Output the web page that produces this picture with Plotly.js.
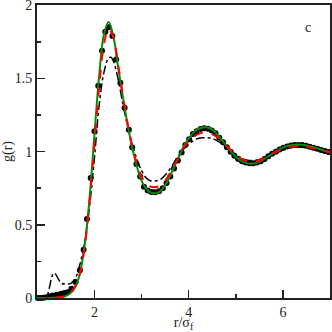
<!DOCTYPE html>
<html>
<head>
<meta charset="utf-8">
<script src="https://cdn.plot.ly/plotly-3.0.1.min.js"></script>
<style>
  html, body { margin: 0; padding: 0; background: #fff; }
  #plot { width: 332px; height: 332px; }
</style>
</head>
<body>
<div id="plot"></div>
<script>
// simulation points (black dots)
var dotR = [0.80, 0.86, 0.92, 0.98, 1.04, 1.11, 1.20, 1.29, 1.36, 1.43, 1.51, 1.60, 1.69, 1.77, 1.84, 1.92,
    2.00, 2.08, 2.16, 2.23, 2.30, 2.38, 2.46, 2.55, 2.64, 2.73, 2.80, 2.89, 2.97,
    3.05, 3.13, 3.21, 3.29, 3.37, 3.45, 3.53, 3.61, 3.69, 3.77, 3.85, 3.93,
    4.01, 4.09, 4.17, 4.25, 4.33, 4.41, 4.49, 4.57, 4.65, 4.73, 4.81, 4.89, 4.97,
    5.05, 5.13, 5.21, 5.29, 5.37, 5.45, 5.53, 5.61, 5.69, 5.77, 5.85, 5.93,
    6.01, 6.09, 6.17, 6.25, 6.33, 6.41, 6.49, 6.57, 6.65, 6.73, 6.81, 6.89, 6.97];
var dotG = [0.0, 0.0, 0.002, 0.005, 0.01, 0.017, 0.022, 0.029, 0.034, 0.04, 0.063, 0.11, 0.19, 0.33, 0.54, 0.82,
    1.14, 1.45, 1.69, 1.82, 1.85, 1.79, 1.63, 1.47, 1.30, 1.15, 1.03, 0.916, 0.83,
    0.76, 0.735, 0.725, 0.722, 0.73, 0.75, 0.785, 0.83, 0.885, 0.94, 0.995, 1.045,
    1.085, 1.12, 1.14, 1.155, 1.16, 1.157, 1.145, 1.125, 1.095, 1.065, 1.03, 1.0, 0.972,
    0.95, 0.935, 0.925, 0.92, 0.92, 0.925, 0.935, 0.95, 0.968, 0.985, 1.0, 1.015,
    1.027, 1.036, 1.042, 1.045, 1.046, 1.045, 1.04, 1.034, 1.027, 1.02, 1.012, 1.004, 0.997];

// theory curves share one r grid
var r = [0.78, 1.2, 1.3, 1.4, 1.5, 1.6, 1.7, 1.8, 1.9, 2.0, 2.1, 2.2, 2.3, 2.4, 2.5, 2.6, 2.7, 2.8, 2.9,
    3.0, 3.1, 3.2, 3.3, 3.4, 3.5, 3.6, 3.7, 3.8, 3.9, 4.0, 4.1, 4.2, 4.3, 4.4, 4.5, 4.6, 4.7, 4.8, 4.9,
    5.0, 5.1, 5.2, 5.3, 5.4, 5.5, 5.6, 5.7, 5.8, 5.9, 6.0, 6.1, 6.2, 6.3, 6.4, 6.5, 6.6, 6.7, 6.8, 6.9, 7.0];
var gGreen = [0, 0.002, 0.005, 0.015, 0.035, 0.08, 0.18, 0.38, 0.70, 1.12, 1.52, 1.80, 1.885, 1.79, 1.58, 1.38, 1.19, 1.03, 0.90,
    0.80, 0.745, 0.72, 0.716, 0.73, 0.77, 0.83, 0.90, 0.97, 1.04, 1.09, 1.13, 1.155, 1.165, 1.165, 1.15, 1.12, 1.08, 1.04, 1.00,
    0.965, 0.94, 0.925, 0.917, 0.92, 0.93, 0.95, 0.97, 0.99, 1.01, 1.028, 1.04, 1.046, 1.048, 1.047, 1.042, 1.035, 1.025, 1.015, 1.004, 0.994];
var gRed = [0, 0.003, 0.008, 0.02, 0.04, 0.085, 0.18, 0.37, 0.67, 1.06, 1.44, 1.73, 1.84, 1.78, 1.60, 1.39, 1.20, 1.04, 0.92,
    0.83, 0.78, 0.76, 0.758, 0.77, 0.80, 0.85, 0.91, 0.97, 1.03, 1.07, 1.10, 1.12, 1.13, 1.13, 1.12, 1.10, 1.07, 1.04, 1.01,
    0.98, 0.955, 0.94, 0.93, 0.93, 0.94, 0.955, 0.97, 0.99, 1.005, 1.02, 1.03, 1.035, 1.037, 1.036, 1.032, 1.027, 1.02, 1.012, 1.004, 0.996];

var rDd = [0.78, 0.95, 1.0, 1.05, 1.1, 1.15, 1.2, 1.25, 1.3, 1.4, 1.5, 1.6, 1.7, 1.8, 1.9, 2.0, 2.1, 2.2, 2.3, 2.35, 2.4, 2.5, 2.6, 2.7, 2.8, 2.9,
    3.0, 3.1, 3.2, 3.3, 3.4, 3.5, 3.6, 3.7, 3.8, 3.9, 4.0, 4.1, 4.2, 4.3, 4.4, 4.5, 4.6, 4.7, 4.8, 4.9,
    5.0, 5.1, 5.2, 5.3, 5.4, 5.5, 5.6, 5.7, 5.8, 5.9, 6.0, 6.1, 6.2, 6.3, 6.4, 6.5, 6.6, 6.7, 6.8, 6.9, 7.0];
var gDd = [0, 0.002, 0.02, 0.08, 0.15, 0.17, 0.15, 0.12, 0.10, 0.095, 0.10, 0.14, 0.24, 0.40, 0.64, 0.96, 1.32, 1.54, 1.64, 1.645, 1.62, 1.50, 1.33, 1.18, 1.05, 0.95,
    0.87, 0.82, 0.80, 0.80, 0.81, 0.84, 0.88, 0.93, 0.98, 1.02, 1.05, 1.075, 1.09, 1.095, 1.095, 1.09, 1.075, 1.055, 1.03, 1.005,
    0.98, 0.96, 0.945, 0.94, 0.94, 0.945, 0.955, 0.97, 0.985, 1.0, 1.013, 1.022, 1.028, 1.03, 1.03, 1.027, 1.022, 1.016, 1.01, 1.003, 0.997];

var traces = [
    { x: dotR, y: dotG, type: 'scatter', mode: 'markers', cliponaxis: false, marker: { color: 'black', size: 6 } },
    { x: rDd, y: gDd, type: 'scatter', mode: 'lines', line: { color: 'black', width: 1.5, dash: 'dashdot', shape: 'spline' } },
    { x: r, y: gGreen, type: 'scatter', mode: 'lines', line: { color: '#0a8a0a', width: 2, shape: 'spline' } },
    { x: r, y: gRed, type: 'scatter', mode: 'lines', line: { color: 'red', width: 2, dash: 'dash', shape: 'spline' } }
];

var fnt = { family: 'Liberation Serif, Times New Roman, serif', size: 14, color: '#222' };

var layout = {
    width: 332, height: 332,
    margin: { l: 37, r: 2, t: 5, b: 34 },
    showlegend: false,
    paper_bgcolor: 'white', plot_bgcolor: 'white',
    font: fnt,
    xaxis: {
        range: [0.78, 7], tickvals: [2, 4, 6], ticks: 'inside', ticklen: 8, tickwidth: 1.5, tickcolor: '#222',
        minor: { tickvals: [1, 3, 5, 7], ticks: 'inside', ticklen: 4, tickcolor: '#222' },
        showgrid: false, zeroline: false, showline: true, mirror: true, linewidth: 2, linecolor: '#222',
        title: { text: 'r/σ<sub>f</sub>', font: fnt, standoff: 6 }
    },
    yaxis: {
        range: [0, 2.002], tickvals: [0, 0.5, 1, 1.5, 2], ticktext: ['0', '0.5', '1', '1.5', '2'],
        ticklabeloverflow: 'allow',
        ticks: 'inside', ticklen: 8, tickwidth: 1.5, tickcolor: '#222',
        minor: { dtick: 0.25, ticks: 'inside', ticklen: 4, tickcolor: '#222' },
        showgrid: false, zeroline: false, showline: true, mirror: true, linewidth: 2, linecolor: '#222',
        title: { text: 'g(r)', font: fnt, standoff: 4 }
    },
    annotations: [
        { text: 'c', xref: 'paper', yref: 'paper', x: 0.942, y: 0.957, showarrow: false, font: fnt }
    ]
};

Plotly.newPlot('plot', traces, layout, { staticPlot: true });
</script>
</body>
</html>
